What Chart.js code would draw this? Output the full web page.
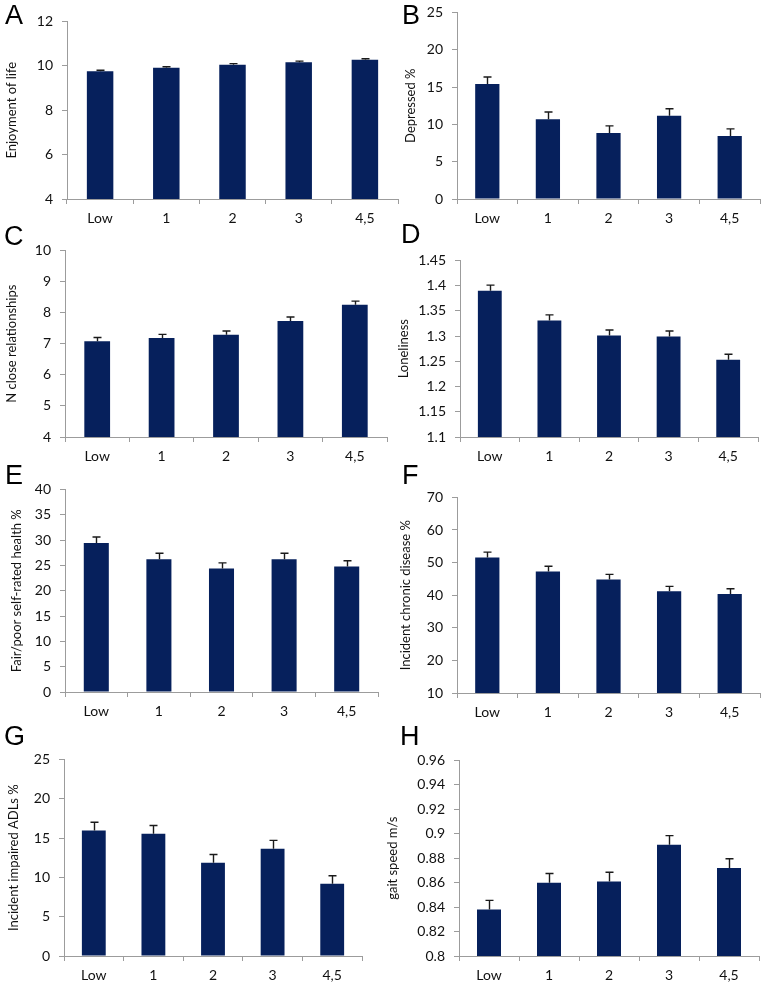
<!DOCTYPE html>
<html>
<head>
<meta charset="utf-8">
<script src="https://cdn.jsdelivr.net/npm/chart.js@4/dist/chart.umd.min.js"></script>
<style>
  html, body { margin:0; padding:0; background:#fff; width:762px; height:983px; overflow:hidden; position:relative; }
  .letter { position:absolute; font-family:"Liberation Sans", Arial, sans-serif; font-size:27px; line-height:1; color:#000; }
  .panel { position:absolute; }
</style>
</head>
<body>
<script>
// ---------- DATA ----------
const categories = ['Low', '1', '2', '3', '4,5'];

const enjoymentOfLife    = [9.75, 9.91, 10.05, 10.16, 10.27];
const enjoymentOfLifeErr = [0.05, 0.05, 0.05, 0.05, 0.05];
const enjoymentTicks     = [4, 6, 8, 10, 12];

const depressed     = [15.4, 10.7, 8.85, 11.15, 8.45];
const depressedErr  = [0.95, 0.95, 0.95, 0.95, 0.95];
const depressedTicks = [0, 5, 10, 15, 20, 25];

const closeRelationships    = [7.08, 7.18, 7.29, 7.73, 8.25];
const closeRelationshipsErr = [0.12, 0.12, 0.12, 0.13, 0.12];
const closeTicks            = [4, 5, 6, 7, 8, 9, 10];

const loneliness      = [1.390, 1.331, 1.301, 1.299, 1.253];
const lonelinessErr   = [0.011, 0.011, 0.011, 0.011, 0.011];
const lonelinessTicks = [1.1, 1.15, 1.2, 1.25, 1.3, 1.35, 1.4, 1.45];

const fairPoorHealth    = [29.4, 26.2, 24.4, 26.2, 24.8];
const fairPoorHealthErr = [1.2, 1.2, 1.1, 1.2, 1.1];
const healthTicks       = [0, 5, 10, 15, 20, 25, 30, 35, 40];

const chronicDisease    = [51.6, 47.3, 44.8, 41.2, 40.4];
const chronicDiseaseErr = [1.6, 1.6, 1.6, 1.5, 1.6];
const chronicTicks      = [10, 20, 30, 40, 50, 60, 70];

const impairedADLs    = [15.95, 15.55, 11.85, 13.65, 9.2];
const impairedADLsErr = [1.05, 1.05, 1.05, 1.05, 1.0];
const adlTicks        = [0, 5, 10, 15, 20, 25];

const gaitSpeed    = [0.838, 0.860, 0.861, 0.891, 0.872];
const gaitSpeedErr = [0.0075, 0.0075, 0.0075, 0.0075, 0.0075];
const gaitTicks    = [0.8, 0.82, 0.84, 0.86, 0.88, 0.9, 0.92, 0.94, 0.96];

const panelLetters = ['A', 'B', 'C', 'D', 'E', 'F', 'G', 'H'];
const axisTitles = ['Enjoyment of life', 'Depressed %', 'N close relationships', 'Loneliness',
                    'Fair/poor self-rated health %', 'Incident chronic disease %',
                    'Incident impaired ADLs %', 'gait speed m/s'];

// ---------- LAYOUT (positions / styles only) ----------
const BAR = '#06205c';
const AXIS = '#9c9c9c';
const TXT = '#111';
const FONT = 'Lato, "Open Sans", sans-serif';

const panels = [
  { values: enjoymentOfLife,    err: enjoymentOfLifeErr,    ticks: enjoymentTicks,  col:0, L:67,  T:16,  R:398, B:199, titleX:12,  letter:[5,5] },
  { values: depressed,          err: depressedErr,          ticks: depressedTicks,  col:1, L:457, T:7,   R:760, B:199, titleX:411, letter:[402,5] },
  { values: closeRelationships, err: closeRelationshipsErr, ticks: closeTicks,      col:0, L:65,  T:245, R:387, B:437, titleX:12,  letter:[4,226] },
  { values: loneliness,         err: lonelinessErr,         ticks: lonelinessTicks, col:1, L:460, T:255, R:758, B:437, titleX:404, letter:[401,224] },
  { values: fairPoorHealth,     err: fairPoorHealthErr,     ticks: healthTicks,     col:0, L:65,  T:484, R:378, B:692, titleX:17,  letter:[5,465] },
  { values: chronicDisease,     err: chronicDiseaseErr,     ticks: chronicTicks,    col:1, L:457, T:492, R:760, B:693, titleX:406, letter:[402,465] },
  { values: impairedADLs,       err: impairedADLsErr,       ticks: adlTicks,        col:0, L:64,  T:754, R:362, B:956, titleX:14,  letter:[4,726] },
  { values: gaitSpeed,          err: gaitSpeedErr,          ticks: gaitTicks,       col:1, L:459, T:755, R:759, B:956, titleX:393, letter:[400,726] }
];

// Error-bar plugin: draws upper whisker with cap through the chart's own scales
const errorBars = {
  id: 'errorBars',
  afterDatasetsDraw(chart, args, opts) {
    const ctx = chart.ctx;
    const meta = chart.getDatasetMeta(0);
    const y = chart.scales.y;
    const errs = opts.err || [];
    ctx.save();
    ctx.strokeStyle = '#1a1a1a';
    ctx.lineWidth = 1.4;
    meta.data.forEach((bar, i) => {
      const v = chart.data.datasets[0].data[i];
      const top = y.getPixelForValue(v + errs[i]);
      const base = y.getPixelForValue(v);
      const x = Math.round(bar.x) + 0.5;
      ctx.beginPath();
      ctx.moveTo(x, base);
      ctx.lineTo(x, top);
      ctx.moveTo(x - 4, top);
      ctx.lineTo(x + 4, top);
      ctx.stroke();
    });
    ctx.restore();
  }
};

const PAD_TOP = 12, PAD_RIGHT = 3, HX = 31, TITLE_SIZE = 13;

panels.forEach((p, idx) => {
  const cl = p.col === 0 ? 0 : 381;
  const wrap = document.createElement('div');
  wrap.className = 'panel';
  wrap.style.left = cl + 'px';
  wrap.style.top = (p.T - PAD_TOP) + 'px';
  wrap.style.width = (p.R - cl + PAD_RIGHT) + 'px';
  wrap.style.height = (p.B - p.T + PAD_TOP + HX) + 'px';
  const canvas = document.createElement('canvas');
  wrap.appendChild(canvas);
  document.body.appendChild(wrap);

  const lt = document.createElement('div');
  lt.className = 'letter';
  lt.textContent = panelLetters[idx];
  lt.style.left = p.letter[0] + 'px';
  lt.style.top = (p.letter[1] - 3.5) + 'px';
  document.body.appendChild(lt);

  const yw = p.L - cl;
  const titlePad = p.titleX - cl - TITLE_SIZE * 1.2 / 2;
  const tickVals = p.ticks;

  new Chart(canvas, {
    type: 'bar',
    data: {
      labels: categories,
      datasets: [{
        data: p.values,
        backgroundColor: BAR,
        borderWidth: 0,
        barPercentage: 0.4,
        categoryPercentage: 1.0
      }]
    },
    plugins: [errorBars],
    options: {
      responsive: true,
      maintainAspectRatio: false,
      devicePixelRatio: 1,
      animation: false,
      events: [],
      layout: { padding: { left: 0, top: PAD_TOP, right: PAD_RIGHT, bottom: 0 } },
      plugins: {
        legend: { display: false },
        tooltip: { enabled: false },
        errorBars: { err: p.err }
      },
      scales: {
        x: {
          type: 'category',
          offset: true,
          grid: { offset: true, drawOnChartArea: false, drawTicks: true, tickLength: 5, color: AXIS, lineWidth: 1 },
          border: { display: true, color: AXIS, width: 1 },
          ticks: { color: TXT, font: { family: FONT, size: 14 }, padding: 6, maxRotation: 0, autoSkip: false },
          afterFit(s) { s.height = HX; }
        },
        y: {
          type: 'linear',
          min: tickVals[0],
          max: tickVals[tickVals.length - 1],
          grid: { drawOnChartArea: false, drawTicks: true, tickLength: 5, color: AXIS, lineWidth: 1 },
          border: { display: true, color: AXIS, width: 1 },
          ticks: {
            color: TXT, font: { family: FONT, size: 14 }, padding: 9,
            callback: v => String(+Number(v).toFixed(4))
          },
          afterBuildTicks(s) { s.ticks = tickVals.map(v => ({ value: v })); },
          title: {
            display: true, text: axisTitles[idx], color: TXT,
            font: { family: FONT, size: TITLE_SIZE }, padding: { top: titlePad, bottom: 0 }
          },
          afterFit(s) { s.width = yw; }
        }
      }
    }
  });
});
</script>
</body>
</html>
